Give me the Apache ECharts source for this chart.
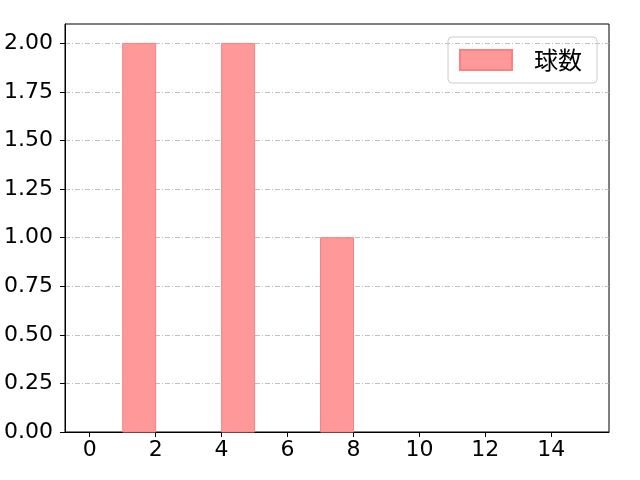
<!DOCTYPE html>
<html><head><meta charset="utf-8">
<script src="https://cdn.jsdelivr.net/npm/echarts@6/dist/echarts.min.js"></script>
<style>html,body{margin:0;padding:0;background:#fff}#c{width:640px;height:480px}</style>
</head><body><div id="c"></div>
<script>
const binStarts = [1, 4, 7];
const binWidth = 1;
const counts = [2, 2, 1];
const xTicks = [0, 2, 4, 6, 8, 10, 12, 14];
const yTicks = [0, 0.25, 0.5, 0.75, 1.0, 1.25, 1.5, 1.75, 2.0];
const seriesName = '球数';

const chart = echarts.init(document.getElementById('c'));
const cjk = '"Noto Sans CJK JP", "DejaVu Sans", sans-serif';
const num = '"DejaVu Sans", sans-serif';
chart.setOption({
  animation: false,
  grid: {left: 65, right: 31, top: 24, bottom: 48, show: true, borderColor: '#000', borderWidth: 1, outerBoundsMode: 'none'},
  legend: {
    right: 43, top: 37, padding: [11, 15, 11, 11],
    itemWidth: 52, itemHeight: 20, itemGap: 10,
    borderColor: '#cccccc', borderWidth: 1, borderRadius: 4,
    textStyle: {fontFamily: cjk, fontSize: 24, color: '#000', padding: [0, 0, 0, 17]},
    data: [{name: seriesName, icon: 'rect'}]
  },
  xAxis: {
    type: 'value', min: -0.75, max: 15.75,
    axisLine: {show: true, onZero: false, lineStyle: {color: '#000', width: 1}},
    axisTick: {show: true, inside: false, customValues: xTicks, length: 5, lineStyle: {color: '#000'}},
    axisLabel: {customValues: xTicks, fontFamily: num, fontSize: 22, color: '#000', margin: 7},
    splitLine: {show: false}
  },
  yAxis: {
    type: 'value', min: 0, max: 2.1,
    axisLine: {show: true, onZero: false, lineStyle: {color: '#000', width: 1}},
    axisTick: {show: true, inside: false, customValues: yTicks, length: 5, lineStyle: {color: '#000'}},
    axisLabel: {customValues: yTicks, fontFamily: num, fontSize: 22, color: '#000', margin: 12,
      formatter: v => v.toFixed(2)},
    splitLine: {show: true, lineStyle: {color: '#b0b0b0', width: 0.8, type: [5, 2, 1, 2]}}
  },
  series: [{
    name: seriesName, type: 'custom',
    itemStyle: {color: '#ff9999', borderColor: '#ff8080', borderWidth: 1},
    data: binStarts.map((s, i) => [s, s + binWidth, counts[i]]),
    encode: {x: [0, 1], y: 2},
    renderItem: (params, api) => {
      const p0 = api.coord([api.value(0), 0]);
      const p1 = api.coord([api.value(1), api.value(2)]);
      return {type: 'rect', shape: {x: p0[0], y: p1[1], width: p1[0] - p0[0], height: p0[1] - p1[1]},
        style: {fill: '#ff9999', stroke: '#ff8080', lineWidth: 1}};
    }
  }]
});
</script></body></html>
